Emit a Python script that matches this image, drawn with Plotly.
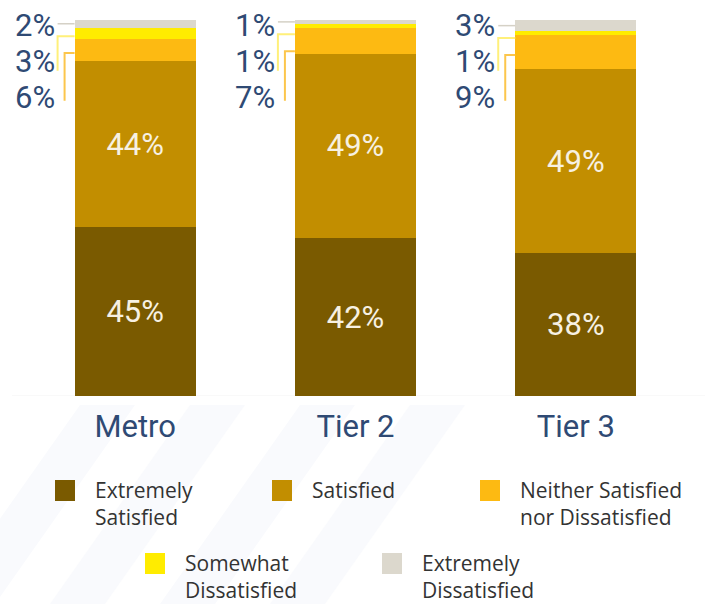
import plotly.graph_objects as go

# Satisfaction by city tier (percent of respondents)
regions = ["Metro", "Tier 2", "Tier 3"]
extremely_satisfied = [45, 42, 38]
satisfied = [44, 49, 49]
neither = [6, 7, 9]
somewhat_dissatisfied = [3, 1, 1]
extremely_dissatisfied = [2, 1, 3]

series_names = [
    "Extremely<br>Satisfied",
    "Satisfied",
    "Neither Satisfied<br>nor Dissatisfied",
    "Somewhat<br>Dissatisfied",
    "Extremely<br>Dissatisfied",
]
series_values = [extremely_satisfied, satisfied, neither,
                 somewhat_dissatisfied, extremely_dissatisfied]
colors = ["#7a5a00", "#c28e00", "#fdba12", "#ffec00", "#dcd8cd"]

W, H = 717, 604
ML, MR, MT, MB = 25, 31, 20, 208
PW, PH = W - ML - MR, H - MT - MB
BAR_W = 0.55
x = list(range(len(regions)))
DX = 3 / PW  # data units per pixel on the x axis


def px(xp):
    return (xp - ML) / PW


def py(yp):
    return (H - MB - yp) / PH


label_font = "Roboto, Arial, sans-serif"
legend_font = "'Open Sans', Roboto, Arial, sans-serif"
navy = "#2f4a74"

fig = go.Figure()
for i, (name, vals, col) in enumerate(zip(series_names, series_values, colors)):
    show_text = i in (0, 1)
    fig.add_trace(go.Bar(
        x=x, y=vals, name=name, width=BAR_W,
        marker=dict(color=col, line=dict(width=0)),
        text=[f"{v}%" for v in vals] if show_text else None,
        textposition="inside" if show_text else "none",
        insidetextanchor="middle",
        textfont=dict(family=label_font, size=31, color="#f7f1e2"),
        hoverinfo="skip",
        showlegend=False,
    ))

shapes = []
annotations = []

# faint diagonal stripes in the background
for x0 in [-60, 50, 160, 270]:
    path = (f"M {px(x0)},{py(604)} L {px(x0 + 55)},{py(604)} "
            f"L {px(x0 + 195)},{py(405)} L {px(x0 + 140)},{py(405)} Z")
    shapes.append(dict(type="path", xref="paper", yref="paper", path=path,
                       fillcolor="#f9fafd", line=dict(width=0), layer="below"))

# baseline
shapes.append(dict(type="line", xref="paper", yref="y", x0=px(12), x1=px(705),
                   y0=0, y1=0, line=dict(color="#f2f2f2", width=1), layer="below"))

# small-segment labels with leader lines
label_levels = [98.5, 89.0, 79.5]
for i in range(len(regions)):
    left = i - BAR_W / 2
    g = extremely_dissatisfied[i]
    s = somewhat_dissatisfied[i]
    n = neither[i]
    top = 100
    grey_y = top - g / 2
    yellow_y = min(top - g - s / 2, grey_y - 3.3)
    orange_y = min(top - g - s - n / 2, yellow_y - 4.5)

    shapes.append(dict(type="line", xref="x", yref="y",
                       x0=left - 17 * DX, x1=left, y0=grey_y, y1=grey_y,
                       line=dict(color="#d5d1c6", width=1.5)))
    shapes.append(dict(type="path", xref="x", yref="y",
                       path=(f"M {left},{yellow_y} L {left - 17 * DX},{yellow_y} "
                             f"L {left - 17 * DX},{label_levels[1] - 2.5}"),
                       line=dict(color="#fff07a", width=2)))
    shapes.append(dict(type="path", xref="x", yref="y",
                       path=(f"M {left},{orange_y} L {left - 10 * DX},{orange_y} "
                             f"L {left - 10 * DX},{label_levels[2] - 1}"),
                       line=dict(color="#fcc64c", width=2)))

    for lvl, v in zip(label_levels, [g, s, n]):
        annotations.append(dict(
            x=left, y=lvl, xref="x", yref="y", xanchor="right", yanchor="middle",
            xshift=-18, text=f"{v}%", showarrow=False,
            font=dict(family=label_font, size=31, color=navy)))

# legend drawn as swatches with wrapped labels
legend_pos = [(55, 480), (272, 480), (480, 480), (145, 553), (382, 553)]
for (lx, ly), name, col in zip(legend_pos, series_names, colors):
    shapes.append(dict(type="rect", xref="paper", yref="paper",
                       x0=px(lx), x1=px(lx + 20), y0=py(ly), y1=py(ly + 21),
                       fillcolor=col, line=dict(width=0)))
    annotations.append(dict(
        x=px(lx + 38), y=py(ly - 6), xref="paper", yref="paper",
        xanchor="left", yanchor="top", align="left", text=name, showarrow=False,
        font=dict(family=legend_font, size=21, color="#333333")))

fig.update_layout(
    barmode="stack",
    width=W, height=H,
    margin=dict(l=ML, r=MR, t=MT, b=MB, pad=0),
    paper_bgcolor="white", plot_bgcolor="rgba(0,0,0,0)",
    shapes=shapes, annotations=annotations,
    xaxis=dict(range=[-0.5, 2.5], tickvals=x, ticktext=regions,
               showgrid=False, zeroline=False, showline=False, ticks="",
               ticklabelstandoff=9,
               tickfont=dict(family=label_font, size=31, color=navy)),
    yaxis=dict(range=[0, 100], visible=False, showgrid=False, zeroline=False),
    uniformtext=dict(mode=False),
)

fig.write_html("out.html")
